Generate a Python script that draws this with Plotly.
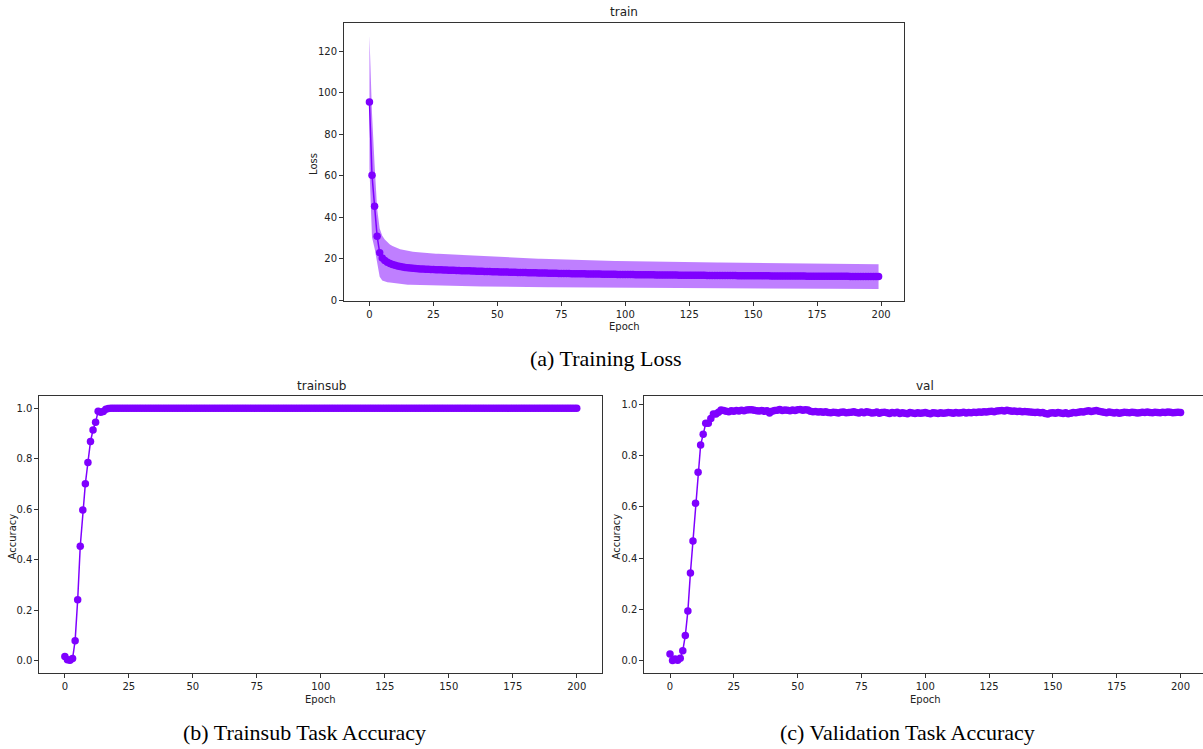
import plotly.graph_objects as go

# ---------------- data ----------------
loss_epochs = list(range(200))
loss_mean = [
    95.5, 60.2, 45.3, 30.8, 22.9, 20.3, 19.1, 18.3, 17.7, 17.2,
    16.8, 16.5, 16.2, 16.0, 15.8, 15.6, 15.5, 15.4, 15.3, 15.2,
    15.1, 15.0, 14.95, 14.9, 14.85, 14.8, 14.75, 14.7, 14.65, 14.6,
    14.55, 14.5, 14.45, 14.4, 14.35, 14.3, 14.25, 14.2, 14.18, 14.15,
    14.1, 14.05, 14.0, 13.97, 13.93, 13.9, 13.85, 13.8, 13.77, 13.73,
    13.7, 13.66, 13.62, 13.58, 13.55, 13.52, 13.48, 13.45, 13.42, 13.38,
    13.35, 13.32, 13.29, 13.26, 13.23, 13.2, 13.17, 13.14, 13.11, 13.08,
    13.05, 13.02, 13.0, 12.97, 12.94, 12.92, 12.89, 12.87, 12.84, 12.82,
    12.8, 12.78, 12.75, 12.73, 12.71, 12.69, 12.67, 12.65, 12.63, 12.61,
    12.59, 12.57, 12.55, 12.53, 12.51, 12.49, 12.47, 12.45, 12.43, 12.42,
    12.4, 12.38, 12.37, 12.35, 12.34, 12.32, 12.31, 12.29, 12.28, 12.26,
    12.25, 12.23, 12.22, 12.21, 12.19, 12.18, 12.17, 12.15, 12.14, 12.13,
    12.12, 12.1, 12.09, 12.08, 12.07, 12.06, 12.05, 12.03, 12.02, 12.01,
    12.0, 11.99, 11.98, 11.97, 11.96, 11.95, 11.94, 11.93, 11.92, 11.91,
    11.9, 11.89, 11.88, 11.87, 11.86, 11.85, 11.84, 11.83, 11.82, 11.81,
    11.8, 11.79, 11.78, 11.77, 11.77, 11.76, 11.75, 11.74, 11.73, 11.72,
    11.71, 11.7, 11.7, 11.69, 11.68, 11.67, 11.66, 11.66, 11.65, 11.64,
    11.63, 11.62, 11.62, 11.61, 11.6, 11.59, 11.59, 11.58, 11.57, 11.56,
    11.56, 11.55, 11.54, 11.54, 11.53, 11.52, 11.52, 11.51, 11.5, 11.5,
    11.49, 11.48, 11.48, 11.47, 11.46, 11.46, 11.45, 11.45, 11.44, 11.43,
]
loss_std = [
    32.0, 29.8, 20.2, 13.3, 11.6, 10.8, 10.1, 9.6, 9.2, 8.9,
    8.7, 8.55, 8.42, 8.32, 8.23, 8.15, 8.08, 8.02, 7.97, 7.92,
    7.88, 7.84, 7.8, 7.77, 7.74, 7.71, 7.68, 7.65, 7.63, 7.6,
    7.58, 7.56, 7.54, 7.52, 7.5, 7.48, 7.46, 7.44, 7.42, 7.4,
    7.38, 7.36, 7.34, 7.32, 7.3, 7.28, 7.26, 7.24, 7.22, 7.2,
    7.18, 7.16, 7.14, 7.12, 7.1, 7.08, 7.06, 7.04, 7.02, 7.0,
    6.98, 6.96, 6.94, 6.92, 6.9, 6.88, 6.86, 6.85, 6.83, 6.82,
    6.8, 6.78, 6.77, 6.75, 6.74, 6.72, 6.71, 6.7, 6.68, 6.67,
    6.66, 6.64, 6.63, 6.62, 6.61, 6.6, 6.58, 6.57, 6.56, 6.55,
    6.54, 6.53, 6.52, 6.51, 6.5, 6.49, 6.48, 6.47, 6.46, 6.45,
    6.44, 6.43, 6.42, 6.42, 6.41, 6.4, 6.39, 6.38, 6.38, 6.37,
    6.36, 6.35, 6.35, 6.34, 6.33, 6.33, 6.32, 6.31, 6.31, 6.3,
    6.29, 6.29, 6.28, 6.28, 6.27, 6.26, 6.26, 6.25, 6.25, 6.24,
    6.24, 6.23, 6.23, 6.22, 6.22, 6.21, 6.21, 6.2, 6.2, 6.19,
    6.19, 6.18, 6.18, 6.17, 6.17, 6.16, 6.16, 6.15, 6.15, 6.14,
    6.14, 6.13, 6.13, 6.13, 6.12, 6.12, 6.11, 6.11, 6.1, 6.1,
    6.1, 6.09, 6.09, 6.08, 6.08, 6.08, 6.07, 6.07, 6.06, 6.06,
    6.06, 6.05, 6.05, 6.05, 6.04, 6.04, 6.03, 6.03, 6.03, 6.02,
    6.02, 6.02, 6.01, 6.01, 6.01, 6.0, 6.0, 6.0, 5.99, 5.99,
    5.99, 5.98, 5.98, 5.98, 5.97, 5.97, 5.97, 5.96, 5.96, 5.96,
]

acc_epochs = list(range(201))
trainsub_acc = [
    0.016, 0.003, 0.001, 0.008, 0.079, 0.241, 0.453, 0.597, 0.701, 0.785,
    0.868, 0.914, 0.945, 0.988, 0.984, 0.987, 0.996, 0.999, 1.0, 1.0,
    1.0, 1.0, 1.0, 1.0, 1.0, 1.0, 1.0, 1.0, 1.0, 1.0,
    1.0, 1.0, 1.0, 1.0, 1.0, 1.0, 1.0, 1.0, 1.0, 1.0,
    1.0, 1.0, 1.0, 1.0, 1.0, 1.0, 1.0, 1.0, 1.0, 1.0,
    1.0, 1.0, 1.0, 1.0, 1.0, 1.0, 1.0, 1.0, 1.0, 1.0,
    1.0, 1.0, 1.0, 1.0, 1.0, 1.0, 1.0, 1.0, 1.0, 1.0,
    1.0, 1.0, 1.0, 1.0, 1.0, 1.0, 1.0, 1.0, 1.0, 1.0,
    1.0, 1.0, 1.0, 1.0, 1.0, 1.0, 1.0, 1.0, 1.0, 1.0,
    1.0, 1.0, 1.0, 1.0, 1.0, 1.0, 1.0, 1.0, 1.0, 1.0,
    1.0, 1.0, 1.0, 1.0, 1.0, 1.0, 1.0, 1.0, 1.0, 1.0,
    1.0, 1.0, 1.0, 1.0, 1.0, 1.0, 1.0, 1.0, 1.0, 1.0,
    1.0, 1.0, 1.0, 1.0, 1.0, 1.0, 1.0, 1.0, 1.0, 1.0,
    1.0, 1.0, 1.0, 1.0, 1.0, 1.0, 1.0, 1.0, 1.0, 1.0,
    1.0, 1.0, 1.0, 1.0, 1.0, 1.0, 1.0, 1.0, 1.0, 1.0,
    1.0, 1.0, 1.0, 1.0, 1.0, 1.0, 1.0, 1.0, 1.0, 1.0,
    1.0, 1.0, 1.0, 1.0, 1.0, 1.0, 1.0, 1.0, 1.0, 1.0,
    1.0, 1.0, 1.0, 1.0, 1.0, 1.0, 1.0, 1.0, 1.0, 1.0,
    1.0, 1.0, 1.0, 1.0, 1.0, 1.0, 1.0, 1.0, 1.0, 1.0,
    1.0, 1.0, 1.0, 1.0, 1.0, 1.0, 1.0, 1.0, 1.0, 1.0,
    1.0,
]
val_acc = [
    0.026, 0.0, 0.006, 0.001, 0.009, 0.038, 0.098, 0.193, 0.342, 0.466,
    0.613, 0.734, 0.841, 0.882, 0.925, 0.925, 0.944, 0.961, 0.961, 0.968,
    0.977, 0.975, 0.972, 0.970, 0.974, 0.972, 0.975, 0.973, 0.976, 0.974,
    0.977, 0.978, 0.978, 0.976, 0.974, 0.973, 0.975, 0.972, 0.974, 0.965,
    0.972, 0.975, 0.976, 0.979, 0.975, 0.977, 0.976, 0.974, 0.977, 0.975,
    0.978, 0.979, 0.976, 0.978, 0.977, 0.972, 0.970, 0.971, 0.969, 0.970,
    0.968, 0.970, 0.967, 0.966, 0.968, 0.967, 0.965, 0.968, 0.969, 0.966,
    0.967, 0.968, 0.970, 0.967, 0.965, 0.969, 0.966, 0.970, 0.968, 0.965,
    0.966, 0.969, 0.964, 0.967, 0.968, 0.966, 0.963, 0.967, 0.965, 0.968,
    0.963, 0.966, 0.964, 0.962, 0.967, 0.965, 0.963, 0.966, 0.964, 0.965,
    0.967, 0.964, 0.962, 0.966, 0.965, 0.963, 0.966, 0.964, 0.965, 0.967,
    0.966, 0.964, 0.967, 0.965, 0.966, 0.968, 0.965, 0.967, 0.966, 0.968,
    0.967, 0.969, 0.968, 0.970, 0.969, 0.971, 0.972, 0.970, 0.973, 0.974,
    0.975, 0.973, 0.976, 0.974, 0.972, 0.973, 0.971, 0.972, 0.970, 0.971,
    0.970, 0.969, 0.968, 0.967, 0.968, 0.966, 0.967, 0.963, 0.961, 0.965,
    0.966, 0.964, 0.967, 0.965, 0.963, 0.966, 0.962, 0.964, 0.967, 0.966,
    0.968, 0.970, 0.969, 0.972, 0.974, 0.971, 0.973, 0.975, 0.972, 0.970,
    0.968, 0.966, 0.969, 0.967, 0.965, 0.967, 0.964, 0.966, 0.968, 0.967,
    0.966, 0.968, 0.967, 0.965, 0.966, 0.968, 0.967, 0.969, 0.967, 0.966,
    0.968, 0.967, 0.966, 0.968, 0.967, 0.969, 0.968, 0.966, 0.967, 0.968,
    0.967,
]

x_ticks = [0, 25, 50, 75, 100, 125, 150, 175, 200]
loss_ticks = [0, 20, 40, 60, 80, 100, 120]
acc_ticks = [0.0, 0.2, 0.4, 0.6, 0.8, 1.0]

panel_titles = ["train", "trainsub", "val"]
captions = ["(a) Training Loss", "(b) Trainsub Task Accuracy", "(c) Validation Task Accuracy"]

# ---------------- styling ----------------
W, H = 1203, 749
COLOR = "#7f00ff"
FILL = "rgba(127,0,255,0.5)"
AX_COLOR = "#333333"
TXT = "#222222"
FONT = "DejaVu Sans"

loss_upper = [m + s for m, s in zip(loss_mean, loss_std)]
loss_lower = [m - s for m, s in zip(loss_mean, loss_std)]


def px(x):
    return x / W


def py(y):
    return 1 - y / H


fig = go.Figure()

# top: loss band + mean
fig.add_trace(go.Scatter(x=loss_epochs, y=loss_upper, mode="lines", line=dict(width=0, color=COLOR),
                         showlegend=False, hoverinfo="skip", xaxis="x", yaxis="y"))
fig.add_trace(go.Scatter(x=loss_epochs, y=loss_lower, mode="lines", line=dict(width=0, color=COLOR),
                         fill="tonexty", fillcolor=FILL, showlegend=False, hoverinfo="skip",
                         xaxis="x", yaxis="y"))
fig.add_trace(go.Scatter(x=loss_epochs, y=loss_mean, mode="lines+markers",
                         line=dict(width=1.5, color=COLOR), marker=dict(size=7.5, color=COLOR),
                         showlegend=False, xaxis="x", yaxis="y"))

# bottom-left: trainsub accuracy
fig.add_trace(go.Scatter(x=acc_epochs, y=trainsub_acc, mode="lines+markers",
                         line=dict(width=1.5, color=COLOR), marker=dict(size=7.5, color=COLOR),
                         showlegend=False, xaxis="x2", yaxis="y2"))

# bottom-right: val accuracy
fig.add_trace(go.Scatter(x=acc_epochs, y=val_acc, mode="lines+markers",
                         line=dict(width=1.5, color=COLOR), marker=dict(size=7.5, color=COLOR),
                         showlegend=False, xaxis="x3", yaxis="y3"))

axis_common = dict(showline=True, linecolor=AX_COLOR, linewidth=1, ticks="outside", ticklen=4,
                   tickwidth=1, tickcolor=AX_COLOR, showgrid=False, zeroline=False,
                   tickfont=dict(family=FONT, size=10, color=TXT))

fig.update_layout(
    width=W, height=H,
    margin=dict(l=0, r=0, t=0, b=0),
    paper_bgcolor="white", plot_bgcolor="white",
    xaxis=dict(domain=[px(344), px(904)], range=[-9.95, 208.95], tickvals=x_ticks,
               anchor="y", mirror=True, **axis_common),
    yaxis=dict(domain=[py(303), py(23)], range=[-0.35, 133.6], tickvals=loss_ticks,
               anchor="x", mirror=True, **axis_common),
    xaxis2=dict(domain=[px(39.3), px(602.3)], range=[-10, 210], tickvals=x_ticks,
                anchor="y2", mirror=True, **axis_common),
    yaxis2=dict(domain=[py(677.7), py(398.3)], range=[-0.05, 1.05], tickvals=acc_ticks,
                tickformat=".1f", anchor="x2", mirror=True, **axis_common),
    xaxis3=dict(domain=[px(644.3), 1.0], range=[-10.07, 208.8], tickvals=x_ticks,
                anchor="y3", mirror=True, **axis_common),
    yaxis3=dict(domain=[py(677.7), py(398.3)], range=[-0.049, 1.033], tickvals=acc_ticks,
                tickformat=".1f", anchor="x3", mirror=False, **axis_common),
)

annotations = []


def add_text(text, x, y, size, family=FONT, color=TXT, angle=0):
    annotations.append(dict(text=text, x=px(x), y=py(y), xref="paper", yref="paper",
                            xanchor="center", yanchor="middle", showarrow=False,
                            textangle=angle, font=dict(family=family, size=size, color=color)))


# panel titles
add_text(panel_titles[0], 624, 12, 12)
add_text(panel_titles[1], 321, 389, 12)
add_text(panel_titles[2], 925, 389, 12)

# axis labels
add_text("Loss", 314, 165, 10, angle=-90)
add_text("Epoch", 624, 329, 10)
add_text("Accuracy", 12, 540, 10, angle=-90)
add_text("Epoch", 320, 704, 10)
add_text("Accuracy", 616, 540, 10, angle=-90)
add_text("Epoch", 925, 704, 10)

# captions
add_text(captions[0], 606, 361, 22, family="Liberation Serif", color="black")
add_text(captions[1], 304, 737, 22, family="Liberation Serif", color="black")
add_text(captions[2], 907, 737, 22, family="Liberation Serif", color="black")

fig.update_layout(annotations=annotations)

fig.write_html("out.html")
